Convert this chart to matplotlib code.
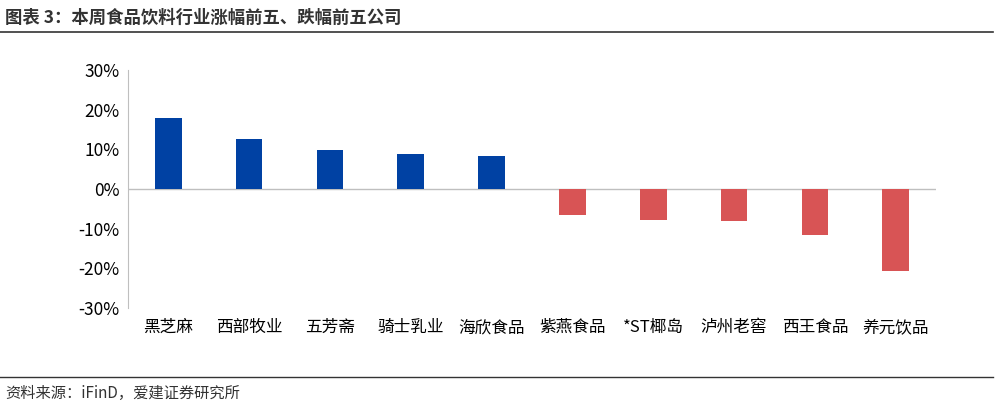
import matplotlib
matplotlib.use("Agg")
import matplotlib.pyplot as plt
from matplotlib.lines import Line2D

plt.rcParams['font.family'] = ['Noto Sans CJK SC', 'DejaVu Sans']

categories = ["黑芝麻", "西部牧业", "五芳斋", "骑士乳业", "海欣食品", "紫燕食品", "*ST椰岛", "泸州老窖", "西王食品", "养元饮品"]
values = [17.9, 12.6, 9.9, 8.8, 8.3, -6.5, -7.8, -8.0, -11.7, -20.7]
yticks = [-30, -20, -10, 0, 10, 20, 30]

fig = plt.figure(figsize=(9.98, 4.08), dpi=100)
ax = fig.add_axes([0.128, 0.245, 0.81, 0.583])
colors = ["#0041A3" if v >= 0 else "#D85455" for v in values]
x = range(len(categories))
ax.bar(x, values, width=0.33, color=colors, zorder=3)
ax.set_ylim(-30, 30)
ax.set_xlim(-0.5, len(categories) - 0.5)
ax.set_yticks(yticks)
ax.set_yticklabels([f"{t}%" for t in yticks], fontsize=12.5)
ax.set_xticks(list(x))
ax.set_xticklabels(categories, fontsize=12)
ax.tick_params(axis='x', length=0, pad=8)
ax.tick_params(axis='y', length=0, pad=6)
for s in ["top", "right", "bottom"]:
    ax.spines[s].set_visible(False)
ax.spines["left"].set_color("#BFBFBF")
ax.axhline(0, color="#BFBFBF", lw=1, zorder=2)

fig.text(0.005, 0.955, "图表 3：本周食品饮料行业涨幅前五、跌幅前五公司", fontsize=12.5, fontweight='bold', color="#333333", va='center')
fig.add_artist(Line2D([0.0, 0.995], [0.922, 0.922], color="#333333", lw=1.2))
fig.add_artist(Line2D([0.0, 0.995], [0.076, 0.076], color="#333333", lw=1.0))
fig.text(0.005, 0.035, "资料来源：iFinD，爱建证券研究所", fontsize=11, color="#333333", va='center')

fig.savefig("out.png", dpi=100)
